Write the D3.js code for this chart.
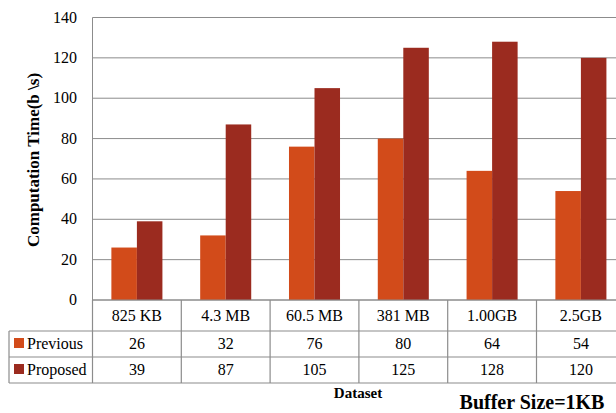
<!DOCTYPE html>
<html><head><meta charset="utf-8">
<script src="https://cdn.jsdelivr.net/npm/d3@7"></script>
<style>body{margin:0;background:#fff}svg{display:block}svg text{font-family:"Liberation Serif","DejaVu Serif",serif;}</style>
</head><body>
<script>
const categories = ["825 KB","4.3 MB","60.5 MB","381 MB","1.00GB","2.5GB"];
const seriesNames = ["Previous","Proposed"];
const previous = [26,32,76,80,64,54];
const proposed = [39,87,105,125,128,120];
const yTicks = [0,20,40,60,80,100,120,140];
const colors = ["#D24B1A","#9B2B1F"];

(function(){
const W=616,H=413;
const svg=d3.select("body").append("svg").attr("width",W).attr("height",H);
const plotLeft=92.5, plotTop=17.5, plotBottom=300, bandW=88.8;
const x=d3.scaleBand().domain(categories).range([plotLeft,plotLeft+bandW*categories.length]).paddingInner(0).paddingOuter(0);
const y=d3.scaleLinear().domain([0,140]).range([plotBottom,plotTop]);
const x1=d3.scaleBand().domain(seriesNames).range([0,bandW]).paddingInner(0).paddingOuter(0.74);

svg.append("g").selectAll("line").data(yTicks).join("line")
 .attr("x1",plotLeft).attr("x2",W).attr("y1",d=>y(d)).attr("y2",d=>y(d))
 .attr("stroke","#8c8c8c").attr("stroke-width",1);
svg.append("line").attr("x1",plotLeft).attr("x2",plotLeft).attr("y1",plotTop).attr("y2",plotBottom).attr("stroke","#8c8c8c");
svg.append("g").selectAll("text").data(yTicks).join("text")
 .attr("x",77).attr("y",d=>y(d)+5).attr("text-anchor","end")
 .attr("font-size",16).text(d=>d);

const data=[previous,proposed];
data.forEach((vals,si)=>{
  svg.append("g").selectAll("rect").data(vals).join("rect")
   .attr("x",(d,i)=>x(categories[i])+x1(seriesNames[si]))
   .attr("width",x1.bandwidth())
   .attr("y",d=>y(d)).attr("height",d=>plotBottom-y(d))
   .attr("fill",colors[si]);
});

const rowY=[300,331,357,383];
const tbl=svg.append("g").attr("stroke","#8c8c8c").attr("stroke-width",1.2).attr("fill","none");
tbl.append("line").attr("x1",plotLeft).attr("x2",W).attr("y1",plotBottom).attr("y2",plotBottom);
[331,357,383].forEach(yy=>tbl.append("line").attr("x1",9).attr("x2",W).attr("y1",yy).attr("y2",yy));
tbl.append("line").attr("x1",9).attr("x2",9).attr("y1",331).attr("y2",383);
categories.forEach(c=>{
  tbl.append("line").attr("x1",x(c)).attr("x2",x(c)).attr("y1",plotBottom).attr("y2",383);
});
svg.append("g").selectAll("text").data(categories).join("text")
 .attr("x",d=>x(d)+bandW/2).attr("y",321).attr("text-anchor","middle")
 .attr("font-size",16).text(d=>d);
data.forEach((vals,si)=>{
  const cy=(rowY[si+1]+rowY[si+2])/2+5;
  svg.append("g").selectAll("text").data(vals).join("text")
   .attr("x",(d,i)=>x(categories[i])+bandW/2).attr("y",cy).attr("text-anchor","middle")
   .attr("font-size",16).text(d=>d);
  svg.append("rect").attr("x",14).attr("y",cy-11).attr("width",10).attr("height",10).attr("fill",colors[si]);
  svg.append("text").attr("x",27).attr("y",cy).attr("font-size",16).text(seriesNames[si]);
});

svg.append("text").attr("transform","translate(39,160) rotate(-90)").attr("text-anchor","middle")
 .attr("font-weight","bold").attr("font-size",17).text("Computation Time(b \\s)");
svg.append("text").attr("x",358).attr("y",398).attr("text-anchor","middle")
 .attr("font-weight","bold").attr("font-size",15).text("Dataset");
svg.append("text").attr("x",532).attr("y",409).attr("text-anchor","middle")
 .attr("font-weight","bold").attr("font-size",20).text("Buffer Size=1KB");
})();
</script>
</body></html>
